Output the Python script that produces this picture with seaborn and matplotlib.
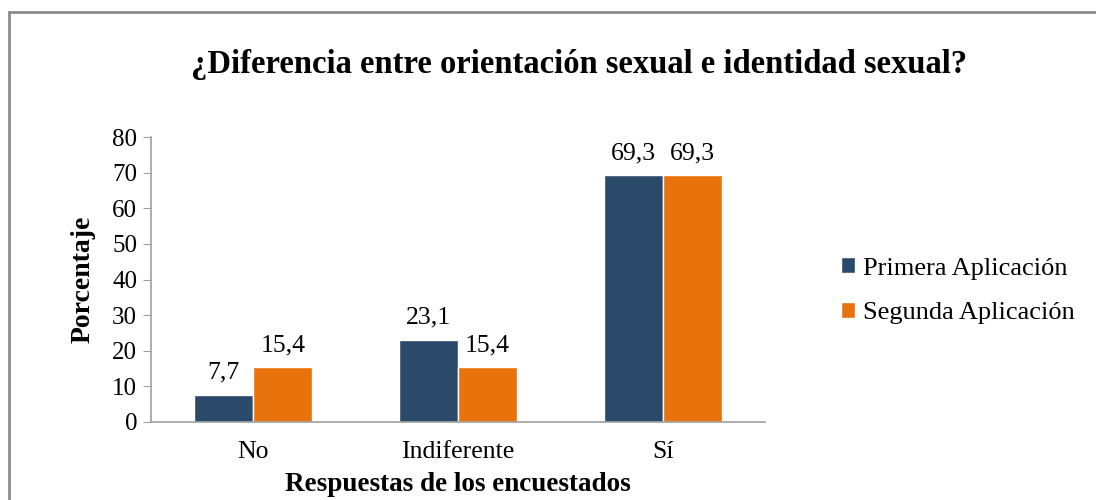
import pandas as pd
import matplotlib
matplotlib.use("Agg")
import matplotlib.pyplot as plt
import seaborn as sns
from matplotlib.patches import Rectangle

# Data
respuestas = ["No", "Indiferente", "Sí"]
primera = [7.7, 23.1, 69.3]
segunda = [15.4, 15.4, 69.3]
series = ["Primera Aplicación", "Segunda Aplicación"]
colores = ["#2B4A6B", "#E8720C"]

df = pd.DataFrame({
    "Respuesta": respuestas * 2,
    "Porcentaje": primera + segunda,
    "Serie": [series[0]] * 3 + [series[1]] * 3,
})

sns.set_style("white")
plt.rcParams["font.family"] = ["Liberation Serif", "DejaVu Serif"]
plt.rcParams["text.color"] = "black"
plt.rcParams["axes.labelcolor"] = "black"
plt.rcParams["xtick.color"] = "black"
plt.rcParams["ytick.color"] = "black"

fig = plt.figure(figsize=(10.96, 5.00), dpi=100)
ax = fig.add_axes([151 / 1096, 1 - 422 / 500, (765 - 151) / 1096, (422 - 137) / 500])

sns.barplot(data=df, x="Respuesta", y="Porcentaje", hue="Serie",
            palette=colores, width=0.577, saturation=1, ax=ax)

for cont in ax.containers:
    ax.bar_label(cont, labels=[f"{v:.1f}".replace(".", ",") for v in cont.datavalues],
                 padding=8, fontsize=18.5)

ax.set_ylim(0, 80)
ax.set_xlim(-0.5, 2.5)
ax.set_yticks(range(0, 81, 10))
ax.tick_params(axis="y", labelsize=18, length=6, color="#A0A0A0", left=True, pad=4)
ax.tick_params(axis="x", labelsize=18.5, length=0, pad=14)
for s in ["top", "right"]:
    ax.spines[s].set_visible(False)
for s in ["left", "bottom"]:
    ax.spines[s].set_color("#A0A0A0")
    ax.spines[s].set_linewidth(1.2)

ax.set_ylabel("Porcentaje", fontsize=20, fontweight="bold", labelpad=12)
ax.set_xlabel("Respuestas de los encuestados", fontsize=19.5, fontweight="bold", labelpad=6)

leg = ax.legend(loc="center left", bbox_to_anchor=(1.085, 0.46), frameon=False,
                fontsize=19, handlelength=0.55, handleheight=0.55, handletextpad=0.3,
                labelspacing=0.85)

fig.text(0.528, 1 - 65 / 500, "¿Diferencia entre orientación sexual e identidad sexual?",
         ha="center", va="center", fontsize=23.5, fontweight="bold")

fig.add_artist(Rectangle((9 / 1096, -0.1), 1.2, 1.1 - 12 / 500,
                         transform=fig.transFigure, fill=False,
                         edgecolor="#8C8C8C", linewidth=2))

fig.savefig("out.png", dpi=100)
